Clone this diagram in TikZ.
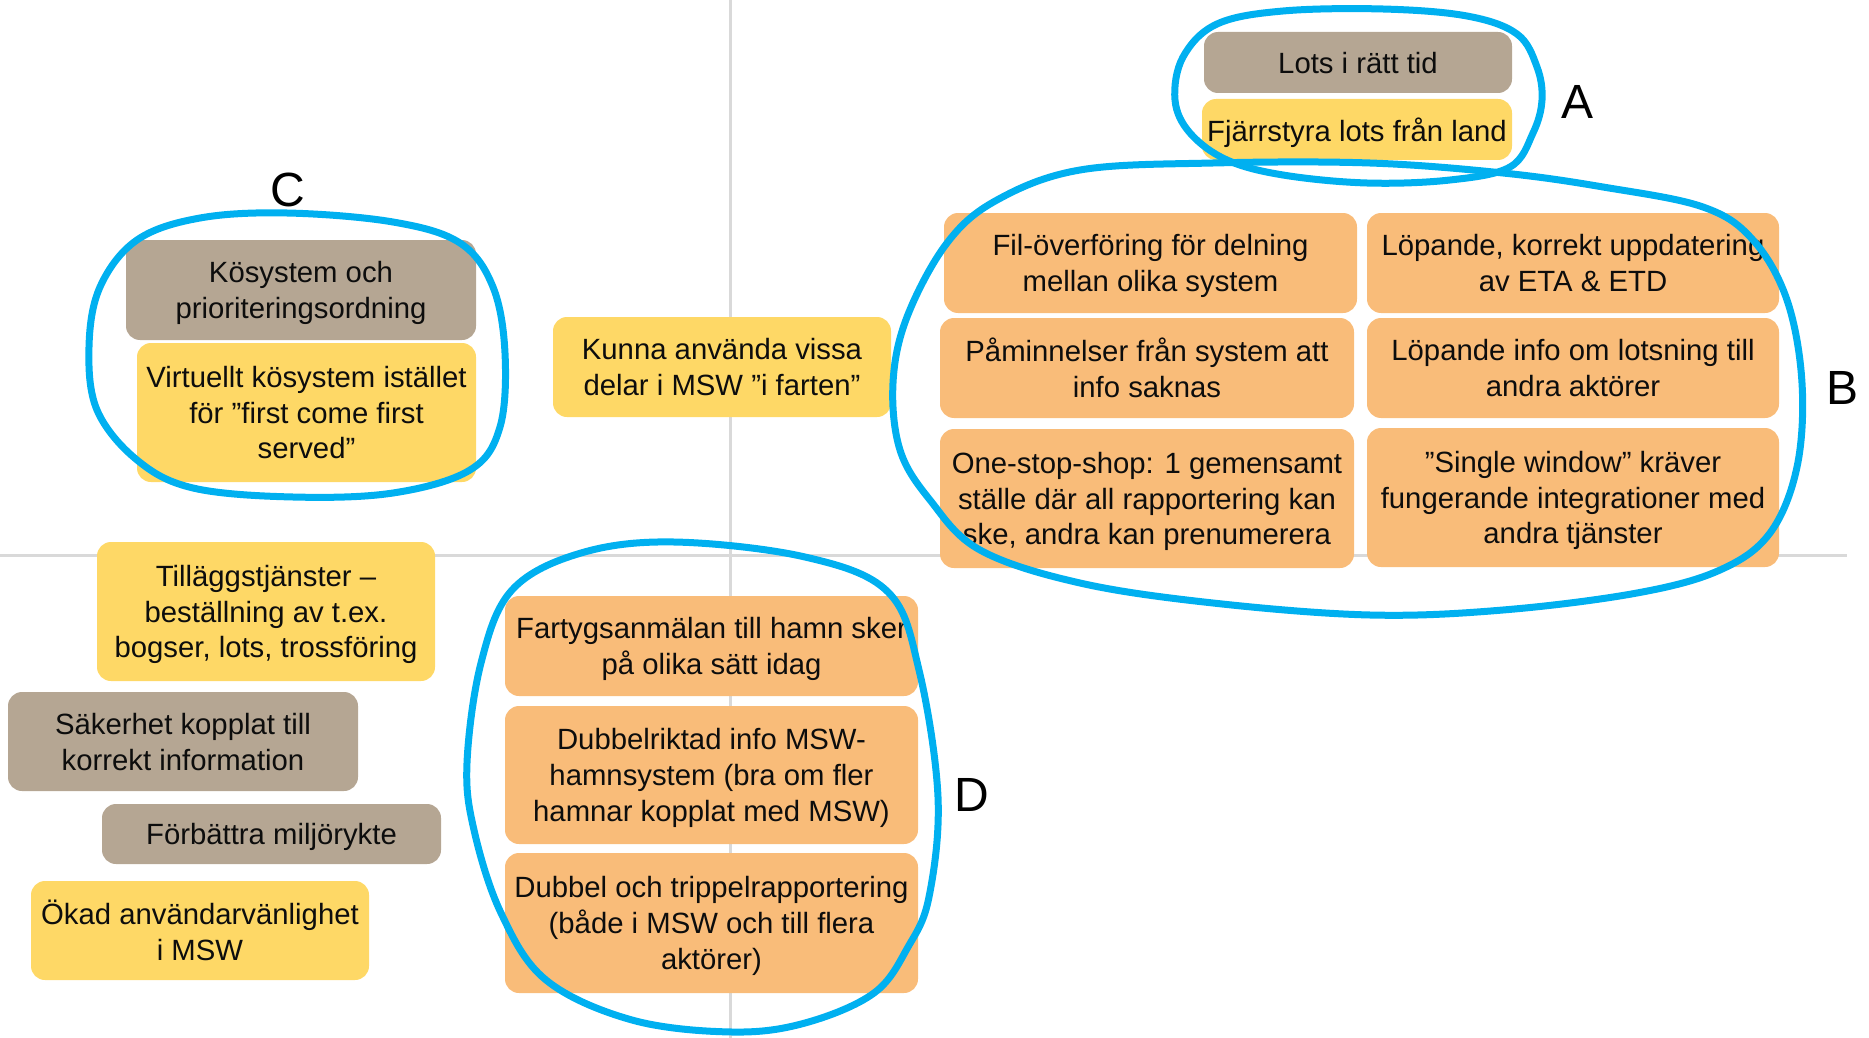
\documentclass[tikz,border=0pt]{standalone}
\usepackage{fontspec}
\setmainfont{Liberation Sans}
\definecolor{tanbox}{HTML}{B5A693}
\definecolor{yellowbox}{HTML}{FED866}
\definecolor{orangebox}{HTML}{F9BC79}
\definecolor{loop}{HTML}{00B0F0}
\definecolor{axisgray}{HTML}{D9D9D9}
\definecolor{ink}{HTML}{0D0D0D}
\tikzset{
  card/.style={rounded corners=7pt, inner sep=0pt, align=center, text=ink,
    text depth=0pt, font=\fontsize{14.65pt}{17.9pt}\selectfont},
  sz/.style 2 args={minimum width=#1*0.5pt, minimum height=#2*0.5pt},
  tanc/.style={card, fill=tanbox},
  yelc/.style={card, fill=yellowbox},
  orac/.style={card, fill=orangebox},
  grouploop/.style={draw=loop, line width=3.5pt},
  grouplabel/.style={inner sep=0pt, text=black, font=\fontsize{24pt}{28pt}\selectfont},
  axisline/.style={draw=axisgray, line width=1.5pt}
}
\begin{document}
\begin{tikzpicture}[x=0.5pt, y=-0.5pt]
\useasboundingbox (0,0) rectangle (1869,1038);

% quadrant axes
\coordinate (vtop) at (730,0);
\coordinate (vbot) at (730,1038);
\coordinate (hleft) at (0,555);
\coordinate (hright) at (1847,555);
\draw[axisline] (vtop) -- (vbot);
\draw[axisline] (hleft) -- (hright);

% group A
\node[tanc, sz={308}{61}] (lots) at (1358,62.5) {Lots i rätt tid};
\node[yelc, sz={310}{61}] (fjarr) at (1357,129.5) {Fjärrstyra lots från land};

% group B
\node[orac, sz={413}{100}] (fil) at (1150.5,263) {Fil-överföring för delning\\mellan olika system};
\node[orac, sz={412}{100}] (etaetd) at (1573,263) {Löpande, korrekt uppdatering\\av ETA \& ETD};
\node[orac, sz={414}{100}] (pamin) at (1147,368) {Påminnelser från system att\\info saknas};
\node[orac, sz={412}{100}] (lotsinfo) at (1573,368) {Löpande info om lotsning till\\andra aktörer};
\node[orac, sz={414}{139}] (onestop) at (1147,498.5) {One-stop-shop: 1 gemensamt\\ställe där all rapportering kan\\ske, andra kan prenumerera};
\node[orac, sz={412}{139}] (single) at (1573,497.5) {”Single window” kräver\\fungerande integrationer med\\andra tjänster};

% group C
\node[tanc, sz={350}{100}] (kosys) at (301,290) {Kösystem och\\prioriteringsordning};
\node[yelc, sz={339}{139}] (virt) at (306.5,412.5) {Virtuellt kösystem istället\\för ”first come first\\served”};

% loose cards
\node[yelc, sz={338}{100}] (kunna) at (722,367) {Kunna använda vissa\\delar i MSW ”i farten"};
\node[yelc, sz={338}{139}] (tillagg) at (266,611.5) {Tilläggstjänster –\\beställning av t.ex.\\bogser, lots, trossföring};
\node[tanc, sz={350}{99}] (saker) at (183,741.5) {Säkerhet kopplat till\\korrekt information};
\node[tanc, sz={339}{60}] (miljo) at (271.5,834) {Förbättra miljörykte};
\node[yelc, sz={338}{99}] (okad) at (200,930.5) {Ökad användarvänlighet\\i MSW};

% group D
\node[orac, sz={413}{100}] (fartyg) at (711.5,646) {Fartygsanmälan till hamn sker\\på olika sätt idag};
\node[orac, sz={413}{138}] (dubbelr) at (711.5,775) {Dubbelriktad info MSW-\\hamnsystem (bra om fler\\hamnar kopplat med MSW)};
\node[orac, sz={413}{140}] (trippel) at (711.5,923) {Dubbel och trippelrapportering\\(både i MSW och till flera\\aktörer)};

% hand-drawn group outlines
\draw[grouploop] plot[smooth cycle, tension=0.6] coordinates {
  (1383,9) (1467,16) (1517,34) (1537,67) (1542,100) (1533,133) (1510,167)
  (1450,180) (1367,183) (1283,175) (1227,160) (1190,133) (1175,100)
  (1183,57) (1217,24) (1283,11)};
\draw[grouploop] plot[smooth cycle, tension=0.6] coordinates {
  (1213,163) (1370,163) (1503,173) (1603,187) (1703,207) (1753,240)
  (1787,300) (1802,383) (1797,467) (1770,533) (1720,570) (1637,593)
  (1503,610) (1370,615) (1213,603) (1080,583) (980,550) (930,500)
  (900,450) (893,383) (907,317) (947,243) (997,200) (1080,170)};
\draw[grouploop] plot[smooth cycle, tension=0.6] coordinates {
  (287,213) (393,222) (460,243) (493,287) (505,353) (500,427) (470,470)
  (393,493) (293,497) (193,488) (137,460) (97,410) (89,347) (100,287)
  (137,240) (200,218)};
\draw[grouploop] plot[smooth cycle, tension=0.6] coordinates {
  (674,542) (805,557) (888,592) (919,670) (938,797) (929,897) (908,947)
  (874,993) (805,1023) (732,1032) (632,1020) (546,980) (501,913)
  (474,830) (467,763) (481,663) (512,590) (581,553)};

% group letters
\node[grouplabel] (labA) at (1577,102) {A};
\node[grouplabel] (labB) at (1842,388) {B};
\node[grouplabel] (labC) at (288,190) {C};
\node[grouplabel] (labD) at (972,795) {D};
\end{tikzpicture}
\end{document}
